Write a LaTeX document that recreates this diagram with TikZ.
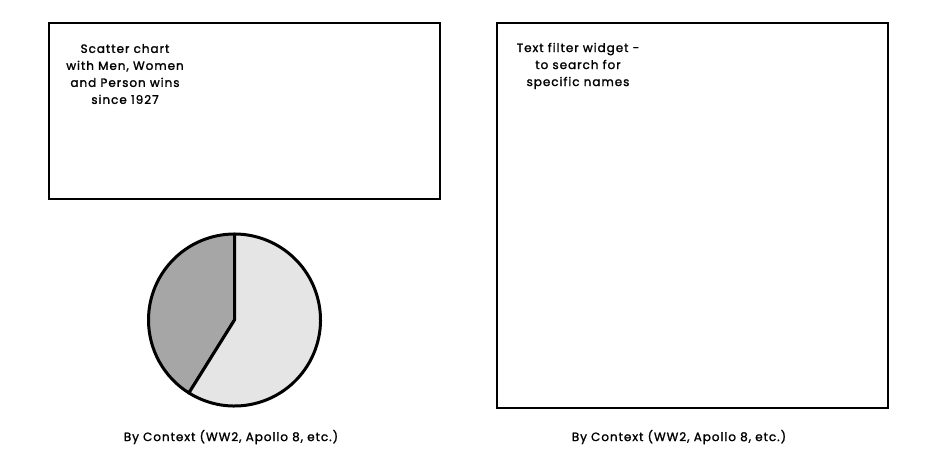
\documentclass[tikz,border=0pt]{standalone}
\usepackage{fontspec}
\setmainfont{Poppins}[FakeBold=1.5,LetterSpace=8]
\usetikzlibrary{positioning}
\definecolor{pielight}{gray}{0.9}
\definecolor{piedark}{gray}{0.65}

\begin{document}
\begin{tikzpicture}[x=1pt,y=-1pt,font=\fontsize{12}{17}\selectfont,
 frame/.style={draw,line width=2.5pt,inner sep=0pt},
 note/.style={align=center,inner sep=1pt},
 wedge/.style={draw,line width=3pt,line join=round}]
\useasboundingbox (0,0) rectangle (925,463);
% left column: scatter chart box and pie
\node[frame,minimum width=391pt,minimum height=176pt] (scatter) at (244.5,111) {};
\node[note] (scattertext) at (125,74) {Scatter chart\\with Men, Women\\and Person wins\\since 1927};
\coordinate (pc) at (234.5,320);
\filldraw[wedge,fill=piedark] (pc) -- ++(90:86pt) arc[start angle=90,end angle=238,radius=86pt] -- cycle;
\filldraw[wedge,fill=pielight] (pc) -- ++(238:86pt) arc[start angle=238,end angle=450,radius=86pt] -- cycle;
\node[note] (piecaption) at (231,437) {By Context (WW2, Apollo 8, etc.)};
% right column: text filter widget
\node[frame,minimum width=391pt,minimum height=385pt] (filter) at (692.5,215.5) {};
\node[note] (filtertext) at (578,66) {Text filter widget -\\to search for\\specific names};
\node[note] (filtercaption) at (679,437) {By Context (WW2, Apollo 8, etc.)};
\end{tikzpicture}
\end{document}
